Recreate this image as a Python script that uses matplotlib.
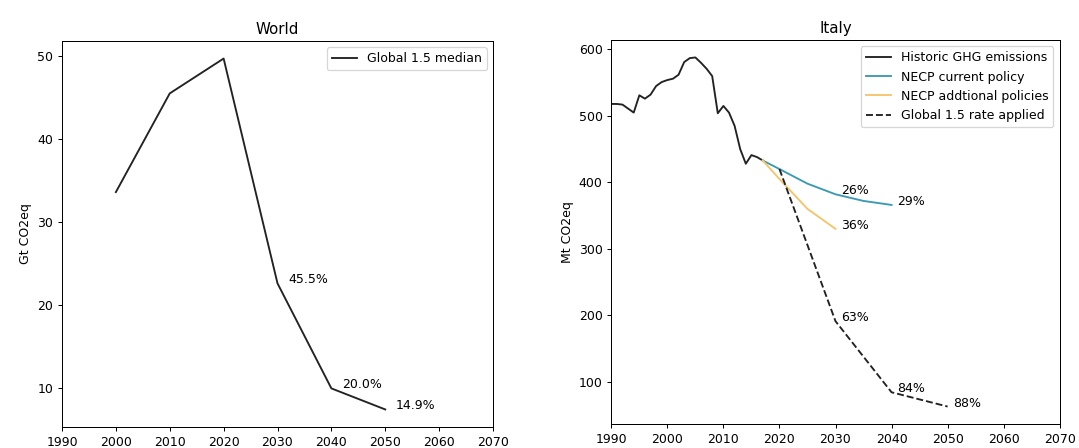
import matplotlib
matplotlib.use("Agg")
import matplotlib.pyplot as plt

# world (Gt CO2eq)
world_years = [2000, 2010, 2020, 2030, 2040, 2050]
world_vals = [33.6, 45.5, 49.7, 22.6, 9.94, 7.4]

# italy historic (Mt CO2eq)
hist_years = list(range(1990, 2018))
hist_vals = [518, 518, 517, 511, 505, 531, 526, 532, 545, 551, 554, 556, 562,
             581, 587, 588, 580, 571, 560, 504, 515, 505, 485, 450, 428, 441,
             438, 433]

necp_cur_years = [2017, 2020, 2025, 2030, 2035, 2040]
necp_cur_vals = [433, 420, 398, 382, 372, 366]

necp_add_years = [2017, 2020, 2025, 2030]
necp_add_vals = [433, 405, 360, 330]

g15_years = [2020, 2030, 2040, 2050]
g15_vals = [420, 191, 84, 62.5]

label_years = [2030, 2040, 2050]

fig = plt.figure(figsize=(1079 / 90, 448 / 90), dpi=90)

# left panel
ax1 = fig.add_axes([62 / 1079, 21 / 448, 431 / 1079, 386 / 448])
ax1.plot(world_years, world_vals, c="#222222", lw=1.5, label="Global 1.5 median")
base = world_vals[world_years.index(2020)]
for yr, v in zip(world_years, world_vals):
    if yr in label_years:
        ax1.text(yr + 2, v, f"{v / base * 100:.1f}%")
ax1.set_xlim(1990, 2070)
ax1.set_xticks(range(1990, 2071, 10))
ax1.set_ylabel("Gt CO2eq")
ax1.set_title("World")
ax1.legend(loc="upper right")

# right panel
ax2 = fig.add_axes([611.3 / 1079, 24 / 448, 448.4 / 1079, 384 / 448])
ax2.plot(hist_years, hist_vals, c="#222222", lw=1.5, label="Historic GHG emissions")
ax2.plot(necp_cur_years, necp_cur_vals, c="#3B9AB2", lw=1.5, label="NECP current policy")
ax2.plot(necp_add_years, necp_add_vals, c="#F7C46C", lw=1.5, label="NECP addtional policies")
ax2.plot(g15_years, g15_vals, "--", c="#222222", lw=1.5, label="Global 1.5 rate applied")

ref = hist_vals[0]
for yrs, vals in [(necp_cur_years, necp_cur_vals), (necp_add_years, necp_add_vals),
                  (g15_years, g15_vals)]:
    for yr, v in zip(yrs, vals):
        if yr in label_years:
            ax2.text(yr + 1, v, f"{round((1 - v / ref) * 100)}%")

ax2.set_xlim(1990, 2070)
ax2.set_xticks(range(1990, 2071, 10))
ax2.set_ylabel("Mt CO2eq")
ax2.set_title("Italy")
ax2.legend(loc="upper right")

fig.savefig("out.png", dpi=90)
